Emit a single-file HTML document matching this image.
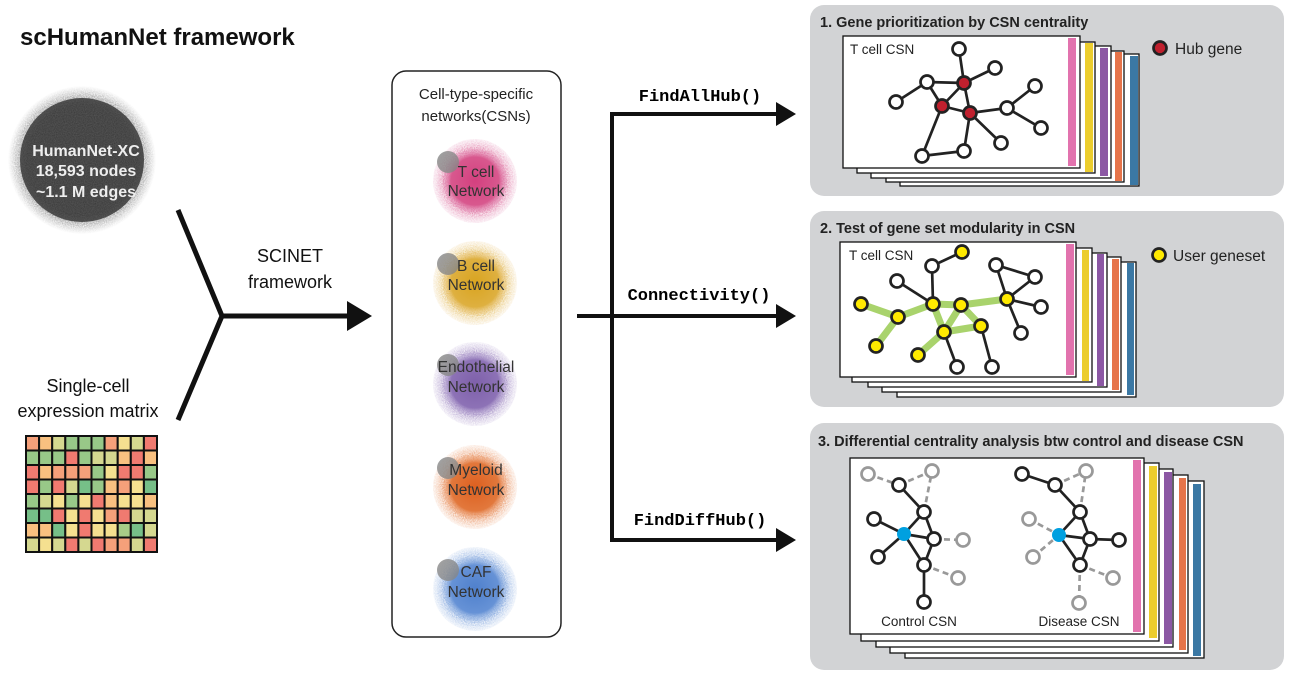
<!DOCTYPE html>
<html><head><meta charset="utf-8"><style>
html,body{margin:0;padding:0;background:#fff;}
svg{display:block;font-family:"Liberation Sans",sans-serif;}
.m{font-family:"Liberation Mono",monospace;font-weight:bold;font-size:17px;}
</style></head><body>
<svg width="1295" height="685" viewBox="0 0 1295 685" xmlns="http://www.w3.org/2000/svg">
<defs>
<filter id="fz" x="-30%" y="-30%" width="160%" height="160%">
<feTurbulence type="fractalNoise" baseFrequency="0.9" numOctaves="2" seed="3"/>
<feColorMatrix type="matrix" values="0 0 0 0 0 0 0 0 0 0 0 0 0 0 0 0 0 0 -1.2 1.1"/>
<feComposite in="SourceGraphic" operator="in"/>
</filter>
<radialGradient id="gc"><stop offset="0" stop-color="#333"/><stop offset="0.75" stop-color="#3a3a3a"/><stop offset="1" stop-color="#555" stop-opacity="0"/></radialGradient>
<radialGradient id="gp"><stop offset="0" stop-color="#d4407f"/><stop offset="0.75" stop-color="#d8588e"/><stop offset="1" stop-color="#e490b8" stop-opacity="0.3"/></radialGradient>
<radialGradient id="gy"><stop offset="0" stop-color="#d9a420"/><stop offset="0.75" stop-color="#deb040"/><stop offset="1" stop-color="#ecc880" stop-opacity="0.3"/></radialGradient>
<radialGradient id="gu"><stop offset="0" stop-color="#7e60aa"/><stop offset="0.75" stop-color="#8d72b6"/><stop offset="1" stop-color="#b8a6d4" stop-opacity="0.3"/></radialGradient>
<radialGradient id="go"><stop offset="0" stop-color="#dd6020"/><stop offset="0.75" stop-color="#e2783c"/><stop offset="1" stop-color="#f0ac84" stop-opacity="0.3"/></radialGradient>
<radialGradient id="gb"><stop offset="0" stop-color="#4f80cc"/><stop offset="0.75" stop-color="#6692d6"/><stop offset="1" stop-color="#a0bce6" stop-opacity="0.3"/></radialGradient>
<marker id="ah" markerWidth="6" markerHeight="6" refX="1" refY="3" orient="auto" markerUnits="strokeWidth"><path d="M0,0 L5,3 L0,6 Z" fill="#111"/></marker>
</defs>

<text x="20" y="45" font-size="24" font-weight="bold" fill="#111">scHumanNet framework</text>
<circle cx="82" cy="160" r="74" fill="url(#gc)" filter="url(#fz)"/>
<circle cx="82" cy="160" r="62" fill="#3a3a3a" opacity="0.85"/>
<g fill="#eee" font-weight="bold" font-size="16" text-anchor="middle">
<text x="86" y="156">HumanNet-XC</text><text x="86" y="176">18,593 nodes</text><text x="86" y="197">~1.1 M edges</text></g>

<g stroke="#111" stroke-width="5" fill="none">
<polyline points="178,210 222,316 178,420"/>
<line x1="222" y1="316" x2="352" y2="316" marker-end="url(#ah)"/>
</g>
<g font-size="18" text-anchor="middle" fill="#111"><text x="290" y="262">SCINET</text><text x="290" y="288">framework</text>
<text x="88" y="392">Single-cell</text><text x="88" y="417">expression matrix</text></g>

<g id="hm" stroke="#111" stroke-width="2">
</g>

<rect x="392" y="71" width="169" height="566" rx="14" fill="#fff" stroke="#222" stroke-width="1.5"/>
<g font-size="15" text-anchor="middle" fill="#222"><text x="476" y="99">Cell-type-specific</text><text x="476" y="121">networks(CSNs)</text></g>
<g filter="url(#fz)" opacity="0.9">
<circle cx="475" cy="181" r="42" fill="url(#gp)"/>
<circle cx="475" cy="283" r="42" fill="url(#gy)"/>
<circle cx="475" cy="384" r="42" fill="url(#gu)"/>
<circle cx="475" cy="487" r="42" fill="url(#go)"/>
<circle cx="475" cy="589" r="42" fill="url(#gb)"/>
</g>
<circle cx="475" cy="181" r="32" fill="url(#gp)"/>
<circle cx="475" cy="283" r="32" fill="url(#gy)"/>
<circle cx="475" cy="384" r="32" fill="url(#gu)"/>
<circle cx="475" cy="487" r="32" fill="url(#go)"/>
<circle cx="475" cy="589" r="32" fill="url(#gb)"/>
<g fill="#888" opacity="0.8"><circle cx="448" cy="162" r="11"/><circle cx="448" cy="264" r="11"/><circle cx="448" cy="365" r="11"/><circle cx="448" cy="468" r="11"/><circle cx="448" cy="570" r="11"/></g>
<g font-size="15.5" text-anchor="middle" fill="#333">
<text x="476" y="177">T cell</text><text x="476" y="196">Network</text>
<text x="476" y="271">B cell</text><text x="476" y="290">Network</text>
<text x="476" y="372">Endothelial</text><text x="476" y="392">Network</text>
<text x="476" y="475">Myeloid</text><text x="476" y="495">Network</text>
<text x="476" y="577">CAF</text><text x="476" y="597">Network</text></g>

<g stroke="#111" stroke-width="4" fill="none">
<polyline points="577,316 612,316"/>
<polyline points="780,114 612,114 612,540 780,540" marker-end="url(#ah)"/>
<line x1="612" y1="114" x2="780" y2="114" marker-end="url(#ah)"/>
<line x1="612" y1="316" x2="780" y2="316" marker-end="url(#ah)"/>
</g>
<text class="m" x="700" y="101" text-anchor="middle">FindAllHub()</text>
<text class="m" x="699" y="300" text-anchor="middle">Connectivity()</text>
<text class="m" x="700" y="525" text-anchor="middle">FindDiffHub()</text>

<!-- Panel 1 -->
<rect x="810" y="5" width="474" height="191" rx="14" fill="#d2d3d5"/>
<text x="820" y="27" font-size="14.5" font-weight="bold" fill="#222">1. Gene prioritization by CSN centrality</text>
<g fill="#fff" stroke="#111" stroke-width="1.3">
<rect x="900" y="54" width="239" height="132"/><rect x="886" y="51" width="238" height="131"/><rect x="871" y="46" width="240" height="132"/><rect x="857" y="42" width="238" height="131"/><rect x="843" y="36" width="237" height="132"/></g>
<rect x="1130" y="56" width="8" height="129" fill="#3b78a4"/><rect x="1115" y="52" width="7" height="129" fill="#e6744a"/><rect x="1100" y="48" width="8" height="128" fill="#8c58a4"/><rect x="1085" y="43" width="8" height="129" fill="#eccd2e"/><rect x="1068" y="38" width="8" height="128" fill="#e273ae"/>
<text x="850" y="54" font-size="13.5" fill="#222">T cell CSN</text>
<g stroke="#222" stroke-width="2.7">
<line x1="959" y1="49" x2="964" y2="83"/><line x1="995" y1="68" x2="964" y2="83"/><line x1="927" y1="82" x2="964" y2="83"/><line x1="927" y1="82" x2="942" y2="106"/><line x1="896" y1="102" x2="927" y2="82"/><line x1="964" y1="83" x2="942" y2="106"/><line x1="964" y1="83" x2="970" y2="113"/><line x1="942" y1="106" x2="970" y2="113"/><line x1="970" y1="113" x2="1007" y2="108"/><line x1="1007" y1="108" x2="1035" y2="86"/><line x1="1007" y1="108" x2="1041" y2="128"/><line x1="970" y1="113" x2="1001" y2="143"/><line x1="942" y1="106" x2="922" y2="156"/><line x1="922" y1="156" x2="964" y2="151"/><line x1="964" y1="151" x2="970" y2="113"/></g>
<g stroke="#222" stroke-width="2.7" fill="#fff">
<circle cx="959" cy="49" r="6.5"/><circle cx="995" cy="68" r="6.5"/><circle cx="927" cy="82" r="6.5"/><circle cx="896" cy="102" r="6.5"/><circle cx="1007" cy="108" r="6.5"/><circle cx="1035" cy="86" r="6.5"/><circle cx="1041" cy="128" r="6.5"/><circle cx="1001" cy="143" r="6.5"/><circle cx="964" cy="151" r="6.5"/><circle cx="922" cy="156" r="6.5"/>
<circle cx="964" cy="83" r="6.5" fill="#c0202e"/><circle cx="942" cy="106" r="6.5" fill="#c0202e"/><circle cx="970" cy="113" r="6.5" fill="#c0202e"/>
<circle cx="1160" cy="48" r="6.5" fill="#c0202e"/></g>
<text x="1175" y="54" font-size="15.5" fill="#222">Hub gene</text>

<!-- Panel 2 -->
<rect x="810" y="211" width="474" height="196" rx="14" fill="#d2d3d5"/>
<text x="820" y="233" font-size="14.5" font-weight="bold" fill="#222">2. Test of gene set modularity in CSN</text>
<g fill="#fff" stroke="#111" stroke-width="1.3">
<rect x="897" y="262" width="239" height="135"/><rect x="882" y="257" width="239" height="135"/><rect x="868" y="253" width="239" height="134"/><rect x="852" y="248" width="240" height="134"/><rect x="840" y="242" width="236" height="135"/></g>
<rect x="1127" y="263" width="7" height="132" fill="#3b78a4"/><rect x="1112" y="259" width="7" height="131" fill="#e6744a"/><rect x="1097" y="254" width="7" height="132" fill="#8c58a4"/><rect x="1082" y="250" width="7" height="131" fill="#eccd2e"/><rect x="1066" y="244" width="8" height="131" fill="#e273ae"/>
<text x="849" y="260" font-size="13.5" fill="#222">T cell CSN</text>
<g stroke="#a9d36c" stroke-width="7" stroke-linecap="round">
<line x1="861" y1="304" x2="898" y2="317"/><line x1="898" y1="317" x2="933" y2="304"/><line x1="933" y1="304" x2="961" y2="305"/><line x1="961" y1="305" x2="1007" y2="299"/><line x1="933" y1="304" x2="944" y2="332"/><line x1="961" y1="305" x2="944" y2="332"/><line x1="961" y1="305" x2="981" y2="326"/><line x1="944" y1="332" x2="981" y2="326"/><line x1="876" y1="346" x2="898" y2="317"/><line x1="918" y1="355" x2="944" y2="332"/></g>
<g stroke="#222" stroke-width="2.7">
<line x1="962" y1="252" x2="932" y2="266"/><line x1="932" y1="266" x2="933" y2="304"/><line x1="897" y1="281" x2="933" y2="304"/><line x1="1007" y1="299" x2="996" y2="265"/><line x1="996" y1="265" x2="1035" y2="277"/><line x1="1035" y1="277" x2="1007" y2="299"/><line x1="1007" y1="299" x2="1041" y2="307"/><line x1="1007" y1="299" x2="1021" y2="333"/><line x1="944" y1="332" x2="957" y2="367"/><line x1="981" y1="326" x2="992" y2="367"/></g>
<g stroke="#222" stroke-width="2.7" fill="#fff">
<circle cx="932" cy="266" r="6.5"/><circle cx="897" cy="281" r="6.5"/><circle cx="996" cy="265" r="6.5"/><circle cx="1035" cy="277" r="6.5"/><circle cx="1041" cy="307" r="6.5"/><circle cx="1021" cy="333" r="6.5"/><circle cx="957" cy="367" r="6.5"/><circle cx="992" cy="367" r="6.5"/>
<g fill="#ffea00"><circle cx="962" cy="252" r="6.5"/><circle cx="861" cy="304" r="6.5"/><circle cx="898" cy="317" r="6.5"/><circle cx="933" cy="304" r="6.5"/><circle cx="961" cy="305" r="6.5"/><circle cx="1007" cy="299" r="6.5"/><circle cx="981" cy="326" r="6.5"/><circle cx="944" cy="332" r="6.5"/><circle cx="876" cy="346" r="6.5"/><circle cx="918" cy="355" r="6.5"/><circle cx="1159" cy="255" r="6.5"/></g></g>
<text x="1173" y="261" font-size="15.5" fill="#222">User geneset</text>

<!-- Panel 3 -->
<rect x="810" y="423" width="474" height="247" rx="14" fill="#d2d3d5"/>
<text x="818" y="446" font-size="14.5" font-weight="bold" fill="#222">3. Differential centrality analysis btw control and disease CSN</text>
<g fill="#fff" stroke="#111" stroke-width="1.3">
<rect x="905" y="481" width="299" height="177"/><rect x="890" y="475" width="298" height="178"/><rect x="876" y="469" width="297" height="178"/><rect x="861" y="463" width="298" height="178"/><rect x="850" y="458" width="294" height="176"/></g>
<rect x="1193" y="484" width="8" height="172" fill="#3b78a4"/><rect x="1179" y="478" width="7" height="172" fill="#e6744a"/><rect x="1164" y="472" width="8" height="172" fill="#8c58a4"/><rect x="1149" y="466" width="8" height="172" fill="#eccd2e"/><rect x="1133" y="460" width="8" height="172" fill="#e273ae"/>
<g stroke="#999" stroke-width="2.7" stroke-dasharray="6,4">
<line x1="868" y1="474" x2="899" y2="485"/><line x1="899" y1="485" x2="932" y2="471"/><line x1="924" y1="512" x2="932" y2="471"/><line x1="934" y1="539" x2="963" y2="540"/><line x1="924" y1="565" x2="958" y2="578"/>
<line x1="1055" y1="485" x2="1086" y2="471"/><line x1="1080" y1="512" x2="1086" y2="471"/><line x1="1029" y1="519" x2="1059" y2="535"/><line x1="1033" y1="557" x2="1059" y2="535"/><line x1="1080" y1="565" x2="1113" y2="578"/><line x1="1080" y1="565" x2="1079" y2="603"/></g>
<g stroke="#222" stroke-width="2.7">
<line x1="899" y1="485" x2="924" y2="512"/><line x1="924" y1="512" x2="904" y2="534"/><line x1="924" y1="512" x2="934" y2="539"/><line x1="874" y1="519" x2="904" y2="534"/><line x1="904" y1="534" x2="934" y2="539"/><line x1="904" y1="534" x2="924" y2="565"/><line x1="934" y1="539" x2="924" y2="565"/><line x1="878" y1="557" x2="904" y2="534"/><line x1="924" y1="565" x2="924" y2="602"/>
<line x1="1022" y1="474" x2="1055" y2="485"/><line x1="1055" y1="485" x2="1080" y2="512"/><line x1="1080" y1="512" x2="1059" y2="535"/><line x1="1080" y1="512" x2="1090" y2="539"/><line x1="1059" y1="535" x2="1090" y2="539"/><line x1="1059" y1="535" x2="1080" y2="565"/><line x1="1090" y1="539" x2="1080" y2="565"/><line x1="1090" y1="539" x2="1119" y2="540"/></g>
<g stroke="#999" stroke-width="2.7" fill="#fff">
<circle cx="868" cy="474" r="6.5"/><circle cx="932" cy="471" r="6.5"/><circle cx="963" cy="540" r="6.5"/><circle cx="958" cy="578" r="6.5"/>
<circle cx="1086" cy="471" r="6.5"/><circle cx="1029" cy="519" r="6.5"/><circle cx="1033" cy="557" r="6.5"/><circle cx="1113" cy="578" r="6.5"/><circle cx="1079" cy="603" r="6.5"/></g>
<g stroke="#222" stroke-width="2.7" fill="#fff">
<circle cx="899" cy="485" r="6.5"/><circle cx="924" cy="512" r="6.5"/><circle cx="874" cy="519" r="6.5"/><circle cx="934" cy="539" r="6.5"/><circle cx="878" cy="557" r="6.5"/><circle cx="924" cy="565" r="6.5"/><circle cx="924" cy="602" r="6.5"/>
<circle cx="1022" cy="474" r="6.5"/><circle cx="1055" cy="485" r="6.5"/><circle cx="1080" cy="512" r="6.5"/><circle cx="1090" cy="539" r="6.5"/><circle cx="1119" cy="540" r="6.5"/><circle cx="1080" cy="565" r="6.5"/></g>
<circle cx="904" cy="534" r="6.5" fill="#00a0e0" stroke="#00a0e0" stroke-width="1"/>
<circle cx="1059" cy="535" r="6.5" fill="#00a0e0" stroke="#00a0e0" stroke-width="1"/>
<text x="919" y="626" font-size="13.5" fill="#222" text-anchor="middle">Control CSN</text>
<text x="1079" y="626" font-size="13.5" fill="#222" text-anchor="middle">Disease CSN</text>
</svg>
<script>
(function(){
var C={r:"#f07a70",o:"#f5a07a",l:"#f8c080",y:"#f5e090",k:"#d5d890",g:"#98c888",G:"#76bf88",a:"#a8cc88"};
var rows=["olkgggoykr","gggrgkklrl","rlooogyrrg","rgrkGgloyG","gkygyrlyyl","GGryryorkk","llGyryyaGk","kykrkrookr"];
var g=document.getElementById("hm"),ns="http://www.w3.org/2000/svg";
var x0=26,y0=436,w=13.1,h=14.5;
for(var i=0;i<8;i++)for(var j=0;j<10;j++){var r=document.createElementNS(ns,"rect");
r.setAttribute("x",x0+j*w);r.setAttribute("y",y0+i*h);r.setAttribute("width",w);r.setAttribute("height",h);
r.setAttribute("fill",C[rows[i][j]]);g.appendChild(r);}
})();
</script>
</body></html>
